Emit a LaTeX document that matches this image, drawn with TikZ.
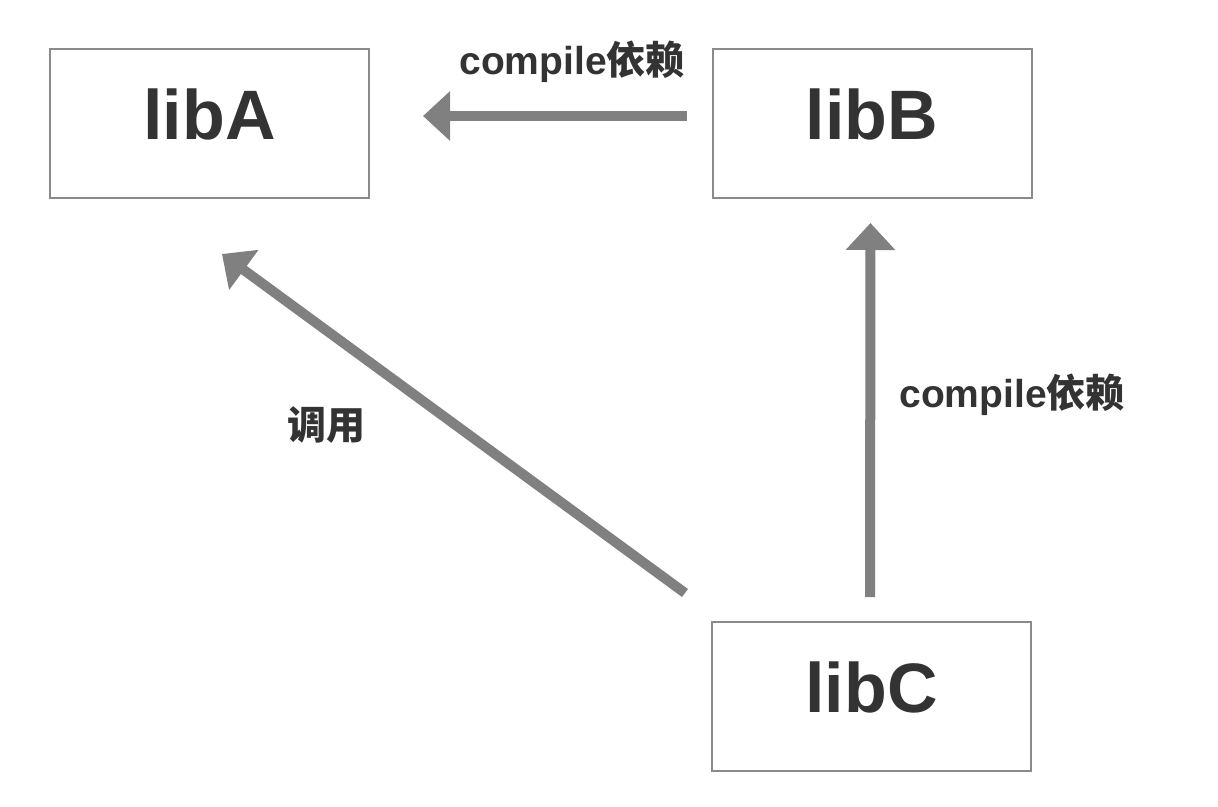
\documentclass[tikz,border=0pt]{standalone}
\usepackage{fontspec}
\setmainfont{Liberation Sans}
\newfontfamily\cjkb{Noto Sans CJK SC Bold}
\usetikzlibrary{arrows.meta}
\definecolor{boxline}{HTML}{8A8A8A}
\definecolor{arrowgray}{HTML}{808080}
\definecolor{txt}{HTML}{333333}
\tikzset{
  libbox/.style={draw=boxline, line width=2pt, minimum width=319pt, minimum height=149pt, inner sep=0pt,
    text depth=18pt, text=txt, font=\bfseries\fontsize{70}{80}\selectfont},
  arr/.style={draw=arrowgray, line width=10pt, -{Triangle[width=48pt,length=27pt]}},
  lbl/.style={text=txt, inner sep=0pt, font=\bfseries\fontsize{39}{44}\selectfont}
}
\begin{document}
\begin{tikzpicture}[x=1pt,y=-1pt]
\useasboundingbox (0,0) rectangle (1218,806);
\node[libbox] (libA) at (209.5,123.5) {libA};
\node[libbox] (libB) at (872,123.5) {libB};
\node[libbox] (libC) at (871.5,696.5) {libC};
\draw[arr, shorten <=25pt, shorten >=53pt] ([yshift=7.5pt]libB.west) -- ([yshift=7.5pt]libA.east);
\draw[arr, shorten <=24pt, shorten >=24pt] ([xshift=-1.5pt]libC.north) -- ([xshift=-1.5pt]libB.south);
\draw[arr] ([shift={(-26pt,28pt)}]libC.north west) -- ([shift={(12.5pt,-55pt)}]libA.south);
\node[lbl] (l1) at (572,62) {compile{\cjkb 依赖}};
\node[lbl] (l2) at (1012,395) {compile{\cjkb 依赖}};
\node[lbl] (l3) at (326,425) {{\cjkb 调用}};
\end{tikzpicture}
\end{document}
